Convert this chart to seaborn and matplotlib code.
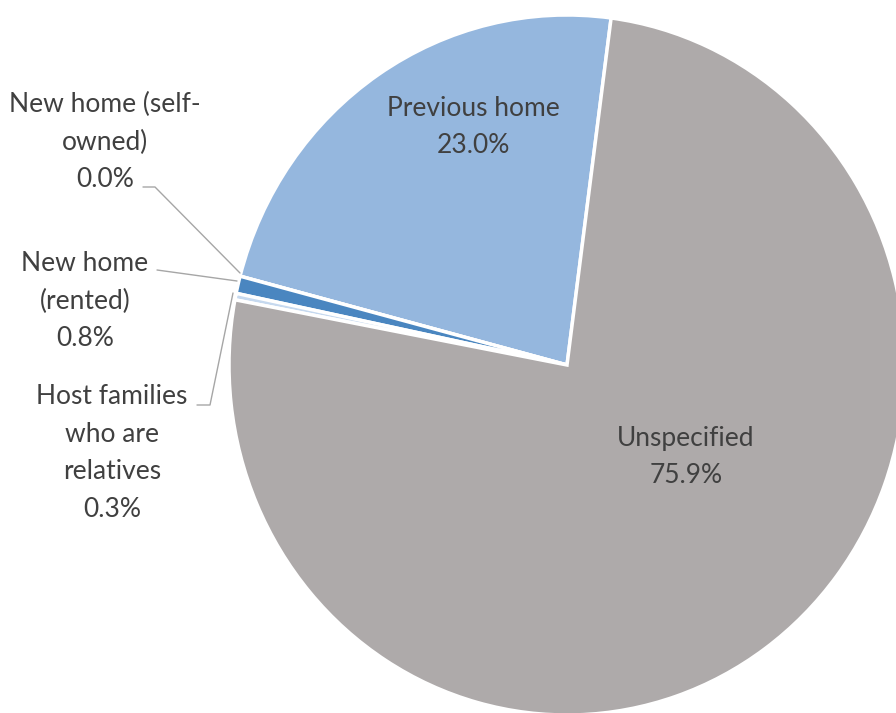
import matplotlib
matplotlib.use("Agg")
import matplotlib.pyplot as plt
import seaborn as sns
from matplotlib.lines import Line2D

sns.set_theme(style="white")
plt.rcParams['font.family'] = ['Lato', 'DejaVu Sans']

# Data
categories = ["Previous home", "New home (self-owned)", "New home (rented)",
              "Host families who are relatives", "Unspecified"]
values = [23.0, 0.0, 0.8, 0.3, 75.9]
label_texts = ["Previous home\n23.0%", "New home (self-\nowned)\n0.0%",
               "New home\n(rented)\n0.8%", "Host families\nwho are\nrelatives\n0.3%",
               "Unspecified\n75.9%"]
colors = ["#95B7DE", "#4A7FB5", "#4A86C0", "#C6D9EF", "#AEAAAA"]

W, H = 896, 713
fig = plt.figure(figsize=(W / 100, H / 100), dpi=100)
ax = fig.add_axes([0, 0, 1, 1])

# pie geometry in pixels (slightly elliptical as in the reference)
cx, cy, rx, ry = 567, 365, 338, 350

ax.pie(values, colors=colors, startangle=82.5, counterclock=True,
       radius=1, center=(0, 0),
       wedgeprops=dict(edgecolor="white", linewidth=2.5))
ax.set_aspect("auto")
ax.set_xlim((0 - cx) / rx, (W - cx) / rx)
ax.set_ylim(-(H - cy) / ry, cy / ry)
ax.axis("off")


def fx(x):
    return x / W


def fy(y):
    return 1 - y / H


txt_color = "#404040"
fs = 19
ls = 1.62

# label positions (pixel centers)
positions = [(473, 127), (105, 142), (85, 301), (112, 453), (686, 457)]
for t, (x, y) in zip(label_texts, positions):
    fig.text(fx(x), fy(y), t, ha="center", va="center", fontsize=fs,
             color=txt_color, linespacing=ls)

# leader lines (pixel coords)
leaders = [
    [(143, 187), (155, 187), (240, 273)],
    [(157, 270), (237, 281)],
    [(197, 405), (210, 405), (233, 293)],
]
for pts in leaders:
    xs = [fx(p[0]) for p in pts]
    ys = [fy(p[1]) for p in pts]
    fig.add_artist(Line2D(xs, ys, color="#A6A6A6", linewidth=1.0,
                          transform=fig.transFigure))

fig.savefig("out.png", dpi=100, facecolor="white")
